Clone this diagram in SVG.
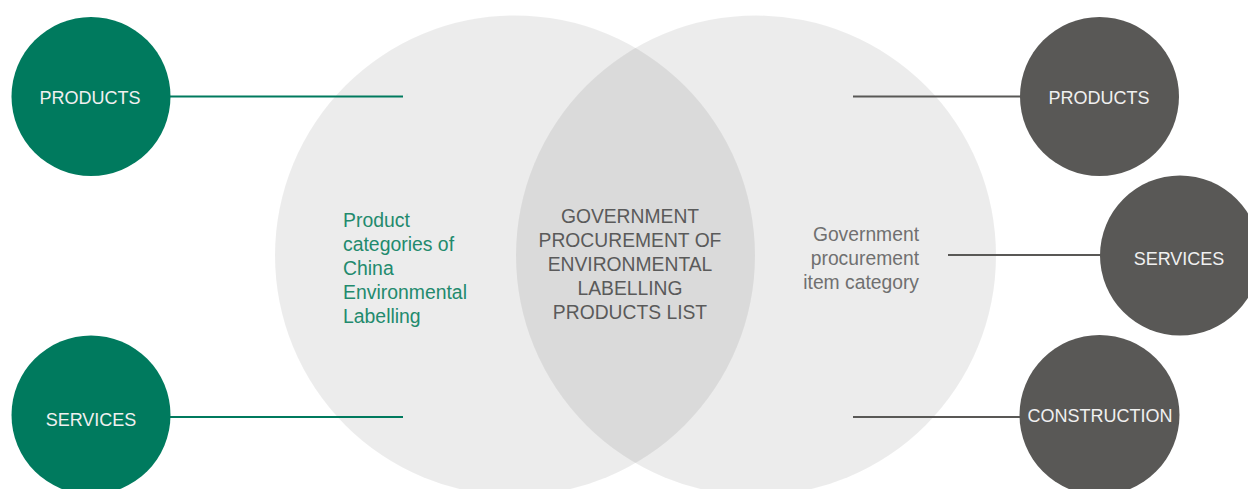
<svg xmlns="http://www.w3.org/2000/svg" width="1248" height="489" viewBox="0 0 1248 489">
<style>
.big{fill:#000;fill-opacity:0.075}
.gn{fill:#007a5e}
.dk{fill:#595856}
.lbl{font-family:"Liberation Sans",Arial,sans-serif;font-size:18px;fill:#f0f0f0;text-anchor:middle}
.gline{stroke:#007a5e;stroke-width:2.2;fill:none}
.dline{stroke:#595856;stroke-width:2.2;fill:none}
.ctr{font-family:"Liberation Sans",Arial,sans-serif;font-size:19.3px;fill:#5a5a5a;text-anchor:middle}
.lt{font-family:"Liberation Sans",Arial,sans-serif;font-size:19.4px;fill:#228a6d}
.rt{font-family:"Liberation Sans",Arial,sans-serif;font-size:19.3px;fill:#707070;text-anchor:end}
</style>
<rect width="1248" height="489" fill="#ffffff"/>
<g id="venn-left">
<circle class="big" cx="515" cy="255.5" r="240"/>
<text class="lt" x="343"><tspan x="343" y="227">Product</tspan><tspan x="343" y="251">categories of</tspan><tspan x="343" y="275">China</tspan><tspan x="343" y="299">Environmental</tspan><tspan x="343" y="323">Labelling</tspan></text>
</g>
<g id="venn-right">
<circle class="big" cx="756" cy="255.5" r="240"/>
<text class="rt"><tspan x="919" y="240.5">Government</tspan><tspan x="919" y="264.5">procurement</tspan><tspan x="919" y="288.5">item category</tspan></text>
</g>
<g id="venn-center">
<text class="ctr"><tspan x="630" y="222.5">GOVERNMENT</tspan><tspan x="630" y="246.5">PROCUREMENT OF</tspan><tspan x="630" y="270.5">ENVIRONMENTAL</tspan><tspan x="630" y="294.5">LABELLING</tspan><tspan x="630" y="318.5">PRODUCTS LIST</tspan></text>
</g>
<g id="connectors">
<line class="gline" x1="170" y1="96.5" x2="403" y2="96.5"/>
<line class="gline" x1="170" y1="417" x2="403" y2="417"/>
<line class="dline" x1="853" y1="96.5" x2="1021" y2="96.5"/>
<line class="dline" x1="948" y1="255" x2="1101" y2="255"/>
<line class="dline" x1="853" y1="417" x2="1021" y2="417"/>
</g>
<g id="green-products">
<circle class="gn" cx="91" cy="96.5" r="79.5"/>
<text class="lbl" x="90" y="103.5">PRODUCTS</text>
</g>
<g id="green-services">
<circle class="gn" cx="91" cy="415" r="79.5"/>
<text class="lbl" x="91" y="425.5">SERVICES</text>
</g>
<g id="grey-products">
<circle class="dk" cx="1099.5" cy="96.5" r="79.5"/>
<text class="lbl" x="1099" y="103.5">PRODUCTS</text>
</g>
<g id="grey-services">
<circle class="dk" cx="1180" cy="255.5" r="80"/>
<text class="lbl" x="1179" y="264.5">SERVICES</text>
</g>
<g id="grey-construction">
<circle class="dk" cx="1099.5" cy="415" r="80"/>
<text class="lbl" x="1100" y="421.5">CONSTRUCTION</text>
</g>
</svg>
